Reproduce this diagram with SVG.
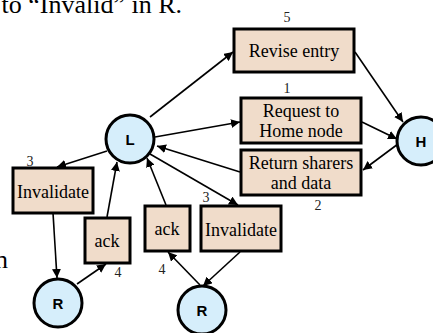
<svg xmlns="http://www.w3.org/2000/svg" width="433" height="333" viewBox="0 0 433 333">
<defs>
<marker id="ah" viewBox="0 0 10 10" refX="10" refY="5" markerWidth="9" markerHeight="9" markerUnits="userSpaceOnUse" orient="auto">
<path d="M0,0 L10,5 L0,10 z" fill="#000"/>
</marker>
<style>
.box{fill:#F0DCCA;stroke:#000;stroke-width:3}
.circ{fill:#D6EEFB;stroke:#000;stroke-width:3}
.lbl{font-family:"Liberation Serif",serif;font-size:18px;fill:#000;text-anchor:middle}
.num{font-family:"Liberation Serif",serif;font-size:14px;fill:#222;text-anchor:middle}
.cl{font-family:"Liberation Sans",Arial,sans-serif;font-weight:bold;font-size:15px;fill:#000;text-anchor:middle}
.big{font-family:"Liberation Serif",serif;font-size:26px;fill:#000}
#connectors line{stroke:#000;stroke-width:1.6;marker-end:url(#ah)}
</style>
</defs>
<rect width="433" height="333" fill="#fff"/>
<text class="big" x="182" y="13" text-anchor="end">to “Invalid” in R.</text>
<text class="big" x="8" y="268" text-anchor="end">n</text>
<g id="connectors">
<line x1="150" y1="117" x2="233" y2="52"/>
<line x1="355" y1="52" x2="403" y2="122"/>
<line x1="155" y1="137" x2="240" y2="122"/>
<line x1="362" y1="122" x2="397" y2="139"/>
<line x1="398" y1="144" x2="363" y2="170"/>
<line x1="240" y1="172" x2="157" y2="146"/>
<line x1="107" y1="151" x2="57" y2="167"/>
<line x1="53" y1="213" x2="57" y2="278"/>
<line x1="77" y1="284" x2="106" y2="264"/>
<line x1="107" y1="217" x2="117" y2="162"/>
<line x1="166" y1="205" x2="147" y2="158"/>
<line x1="150" y1="154" x2="238" y2="205"/>
<line x1="240" y1="252" x2="203" y2="286"/>
<line x1="200" y1="285" x2="168" y2="252"/>
</g>
<g id="L"><circle class="circ" cx="130" cy="139" r="24"/><text class="cl" x="130" y="145">L</text></g>
<g id="H"><circle class="circ" cx="421" cy="141" r="24"/><text class="cl" x="421" y="147">H</text></g>
<g id="R1"><circle class="circ" cx="58" cy="303" r="24"/><text class="cl" x="58" y="309">R</text></g>
<g id="R2"><circle class="circ" cx="202" cy="310" r="24"/><text class="cl" x="202" y="316">R</text></g>
<g id="revise"><rect class="box" x="234" y="29" width="120" height="43"/><text class="lbl" x="294" y="57">Revise entry</text><text class="num" x="287" y="22">5</text></g>
<g id="request"><rect class="box" x="241" y="98" width="120" height="45"/><text class="lbl" x="301" y="117">Request to</text><text class="lbl" x="301" y="137">Home node</text><text class="num" x="287" y="93">1</text></g>
<g id="return"><rect class="box" x="241" y="150" width="120" height="45"/><text class="lbl" x="301" y="169">Return sharers</text><text class="lbl" x="301" y="189">and data</text><text class="num" x="318" y="210">2</text></g>
<g id="inv1"><rect class="box" x="13" y="168" width="80" height="45"/><text class="lbl" x="53" y="198">Invalidate</text><text class="num" x="30" y="166">3</text></g>
<g id="ack1"><rect class="box" x="85" y="218" width="45" height="45"/><text class="lbl" x="107" y="247">ack</text><text class="num" x="118" y="277">4</text></g>
<g id="ack2"><rect class="box" x="145" y="206" width="45" height="45"/><text class="lbl" x="167" y="235">ack</text><text class="num" x="162" y="274">4</text></g>
<g id="inv2"><rect class="box" x="201" y="206" width="80" height="45"/><text class="lbl" x="241" y="236">Invalidate</text><text class="num" x="206" y="202">3</text></g>
</svg>
